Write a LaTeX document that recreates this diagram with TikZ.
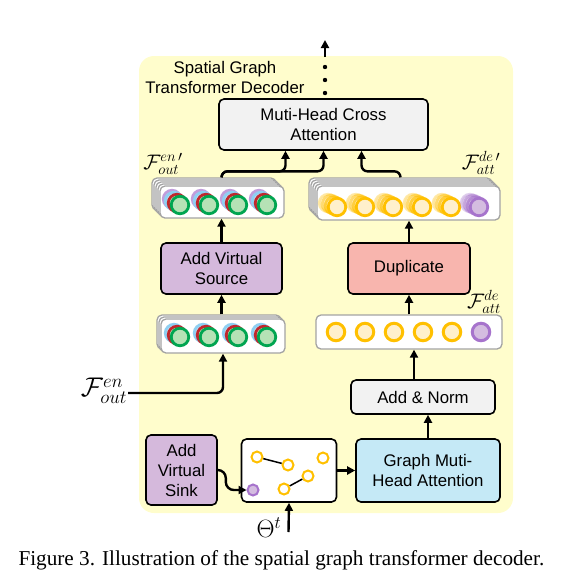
\RequirePackage{fix-cm}
\documentclass[tikz,border=0pt]{standalone}
\usepackage{fontspec}
\setmainfont{Liberation Sans}
\newfontfamily\capfont{Liberation Serif}
\usetikzlibrary{arrows.meta}

\definecolor{bgyel}{HTML}{FFFDCC}
\definecolor{boxgray}{HTML}{F2F2F2}
\definecolor{boxpurple}{HTML}{D5B9DC}
\definecolor{boxred}{HTML}{F8B5AE}
\definecolor{boxblue}{HTML}{C5E9F6}
\definecolor{framegray}{HTML}{A3A3A3}
\definecolor{ringyel}{HTML}{FFC000}
\definecolor{fillyel}{HTML}{FFF0CC}
\definecolor{ringpur}{HTML}{A673CC}
\definecolor{fillpur}{HTML}{D4BCE0}
\definecolor{ringgreen}{HTML}{00A550}
\definecolor{fillgreen}{HTML}{B5E2B5}
\definecolor{ringred}{HTML}{C0272D}
\definecolor{ltblue}{HTML}{8ECFF2}

\begin{document}
\begin{tikzpicture}[x=1pt, y=-1pt]
		\tikzset{blk/.style={draw=black, line width=1.6pt, rounded corners=5pt, align=center, inner sep=0pt, font=\fontsize{16.8}{20}\selectfont}};
		\tikzset{arr/.style={-{Triangle[length=8pt,width=8pt]}, line width=2.4pt}};
		\tikzset{frm/.style={draw=framegray, line width=1.3pt, fill=white, rounded corners=5pt, inner sep=0pt}};
		\tikzset{dot/.style={circle, line width=2.8pt, minimum size=17.5pt, inner sep=0pt}};
		\tikzset{gdot/.style={circle, draw=ringyel, fill=white, line width=2pt, minimum size=11pt, inner sep=0pt}};
		\tikzset{lbl/.style={font=\fontsize{21}{24}\selectfont, inner sep=1pt}};

		\useasboundingbox (0,0) rectangle (588,587);
		\fill[bgyel, rounded corners=15pt] (139,56) rectangle (513,513);

		\node[align=center, font=\fontsize{16.8}{20}\selectfont] (title) at (225,77) {Spatial Graph\\Transformer Decoder};

		% stacked encoder features
		\foreach \d in {8,6,4,2,0}
			\node[frm, minimum width=124pt, minimum height=32pt] (enc\d) at (222-\d,202-\d) {};
		\foreach \x in {180,209,238,267} {
			\node[dot, draw=ringpur!70, fill=fillpur] at (\x-8,205-6) {};
			\node[dot, draw=ltblue, fill=ltblue!50] at (\x-6,205-4) {};
			\node[dot, draw=ringred, fill=fillgreen] at (\x-3,205-2) {};
			\node[dot, draw=ringgreen, fill=fillgreen] at (\x,205) {};
		}

		\foreach \d in {4,2,0}
			\node[frm, minimum width=124pt, minimum height=34pt] (lo\d) at (223-\d,336-\d) {};
		\foreach \x in {180,209,238,267} {
			\node[dot, draw=ltblue, fill=ltblue!50] at (\x-6,337-4) {};
			\node[dot, draw=ringred, fill=fillgreen] at (\x-3,337-2) {};
			\node[dot, draw=ringgreen, fill=fillgreen] at (\x,337) {};
		}

		% stacked decoder features
		\foreach \d in {8,6,4,2,0}
			\node[frm, minimum width=183pt, minimum height=34pt] (dec\d) at (408.5-\d,203-\d) {};
		\foreach \x in {337,365,393,422,451} {
			\node[dot, draw=ringyel, fill=fillyel, opacity=0.35] at (\x-9,207-4) {};
			\node[dot, draw=ringyel, fill=fillyel, opacity=0.5] at (\x-6,207-3) {};
			\node[dot, draw=ringyel, fill=fillyel, opacity=0.7] at (\x-3,207-1.5) {};
			\node[dot, draw=ringyel, fill=fillyel] at (\x,207) {};
		}
		\node[dot, draw=ringpur, fill=fillpur, opacity=0.35] at (479-9,207-4) {};
		\node[dot, draw=ringpur, fill=fillpur, opacity=0.5] at (479-6,207-3) {};
		\node[dot, draw=ringpur, fill=fillpur, opacity=0.7] at (479-3,207-1.5) {};
		\node[dot, draw=ringpur, fill=fillpur] at (479,207) {};

		\node[frm, minimum width=186pt, minimum height=34pt] (decrow) at (409,332) {};
		\foreach \x in {336,365,394,423,452}
			\node[dot, draw=ringyel, fill=fillyel, line width=3pt] at (\x,332) {};
		\node[dot, draw=ringpur, fill=fillpur, line width=3pt] at (481,332) {};

		% blocks
		\node[blk, fill=boxgray, minimum width=209pt, minimum height=51pt] (cross) at (323.5,124.5) {Muti-Head Cross\\Attention};
		\node[blk, fill=boxpurple, minimum width=121pt, minimum height=51pt] (vsrc) at (221.5,268.5) {Add Virtual\\Source};
		\node[blk, fill=boxred, minimum width=122pt, minimum height=51pt] (dup) at (409,268.5) {Duplicate};
		\node[blk, fill=boxgray, minimum width=144pt, minimum height=34pt] (addnorm) at (423,397) {Add \& Norm};
		\node[blk, fill=boxpurple, minimum width=71pt, minimum height=70pt] (sink) at (181.5,470) {Add\\Virtual\\Sink};
		\node[blk, fill=white, minimum width=95pt, minimum height=63pt] (gbox) at (289,470.5) {};
		\node[blk, fill=boxblue, minimum width=144pt, minimum height=63pt] (gmha) at (428,470.5) {Graph Muti-\\Head Attention};

		% graph
		\node[gdot] (g1) at (257,457) {};
		\node[gdot] (g2) at (288,465) {};
		\node[gdot] (g3) at (323,458) {};
		\node[gdot] (g4) at (308,476) {};
		\node[gdot] (g5) at (284,489) {};
		\node[gdot, draw=ringpur, fill=fillpur] (pv) at (253,490) {};
		\draw[line width=1.5pt] (g1) -- (g2);
		\draw[line width=1.5pt] (g5) -- (g4);

		% labels
		\node[lbl] (lbenc) at (163,164) {$\mathcal{F}^{en\,\prime}_{out}$};
		\node[lbl] (lbdec) at (481,163) {$\mathcal{F}^{de\,\prime}_{att}$};
		\node[lbl] (lbatt) at (484,302) {$\mathcal{F}^{de}_{att}$};
		\node[font=\fontsize{27}{30}\selectfont, inner sep=1pt] (fen) at (104,391) {$\mathcal{F}^{en}_{out}$};
		\node[font=\fontsize{25}{28}\selectfont] (theta) at (269,528) {$\Theta^t$};
		\coordinate (thin) at (288.5,532);
		\coordinate (oa) at (325,57);
		\coordinate (ob) at (325,40);

		% connectors
		\draw[arr, rounded corners=6pt] (vsrc.north |- enc8.north) -- ++(0,-6) -| ([xshift=-38pt]cross.south);
		\draw[arr, rounded corners=6pt] (vsrc.north |- enc8.north) -- ++(0,-6) -| (cross.south);
		\draw[arr, rounded corners=6pt] (dec8.north) -- ++(0,-6) -| ([xshift=38pt]cross.south);
		\draw[arr] (vsrc.north) -- (vsrc.north |- enc0.south);
		\draw[arr] (vsrc.south |- lo4.north) -- (vsrc.south);
		\draw[arr, rounded corners=6pt] ([yshift=-2pt]fen.east) -| (lo0.south);
		\draw[arr] (decrow.north) -- (dup.south);
		\draw[arr] (dup.north) -- (dup.north |- dec0.south);
		\draw[arr] ([xshift=-9pt]addnorm.north) -- ([xshift=-9pt]addnorm.north |- decrow.south);
		\draw[arr] (gmha.north) -- (gmha.north |- addnorm.south);
		\draw[arr] (gbox.east) -- (gmha.west);
		\draw[arr, rounded corners=8pt] (sink.east) -- ++(8,0) |- (pv.west);
		\draw[arr] (thin) -- (gbox.south);
		\foreach \y in {67,80,93}
			\fill (325,\y) circle (2.2pt);
		\draw[arr] (oa) -- (ob);

		\node[font=\capfont\fontsize{21.2}{24}\selectfont, anchor=west] (cap) at (15,560) {Figure 3. Illustration of the spatial graph transformer decoder.};
	\end{tikzpicture}
\end{document}
